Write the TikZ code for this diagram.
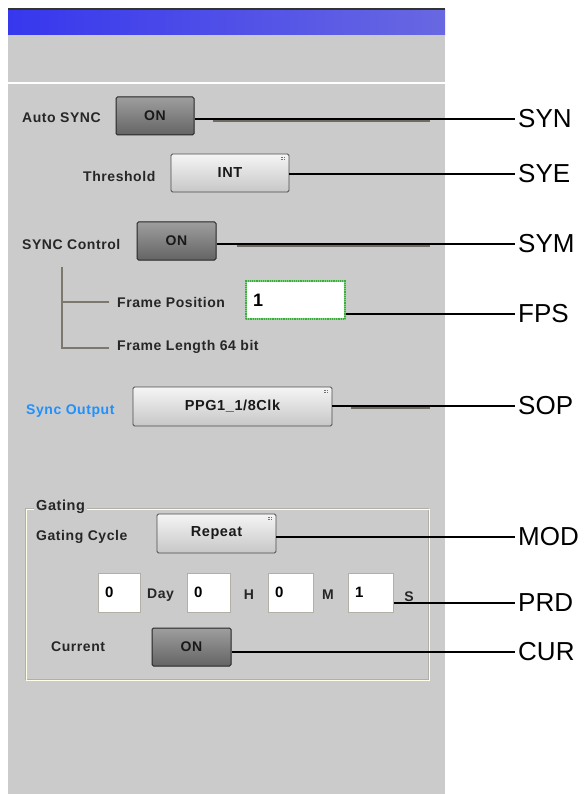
\documentclass[tikz,border=0pt]{standalone}
\usepackage{fontspec}
\setmainfont{Liberation Sans}
\newfontfamily\guifont[LetterSpace=4]{Liberation Sans}
\usetikzlibrary{shapes,backgrounds}

\definecolor{panelgray}{RGB}{203,203,203}
\definecolor{barleft}{RGB}{55,55,238}
\definecolor{barright}{RGB}{104,104,226}
\definecolor{treeline}{RGB}{125,120,110}
\definecolor{linkblue}{RGB}{30,144,255}
\definecolor{focusgreen}{RGB}{120,215,120}
\definecolor{focusdark}{RGB}{60,170,60}
\definecolor{shadowgray}{RGB}{112,107,97}
\definecolor{ontop}{RGB}{158,158,158}
\definecolor{onbottom}{RGB}{100,100,100}
\definecolor{etch}{RGB}{178,175,166}

\tikzset{
  gui/.style={font=\guifont\bfseries\fontsize{14}{15}\selectfont, text=black!85, inner sep=0pt},
  onbtn/.style={draw=black!85, line width=1pt, rounded corners=1.5pt,
    top color=ontop, bottom color=onbottom, minimum height=38pt,
    font=\guifont\bfseries\fontsize{14}{15}\selectfont, text=black!90, inner sep=0pt},
  selbtn/.style={draw=black!70, line width=0.8pt, rounded corners=1.5pt,
    top color=white!96!black, bottom color=black!22, minimum height=39pt,
    font=\guifont\bfseries\fontsize{14.5}{16}\selectfont, text=black!90, inner sep=0pt},
  valbox/.style={draw=etch, line width=1pt, fill=white, minimum height=39pt,
    inner xsep=7pt, align=left, font=\bfseries\fontsize{15}{16}\selectfont},
  tag/.style={font=\fontsize{26}{28}\selectfont, inner xsep=3pt, inner ysep=0pt, anchor=west},
  leader/.style={line width=1.3pt, black},
  shadeline/.style={line width=2.6pt, shadowgray},
}

\newcommand{\gripdots}[1]{%
  \foreach \gx in {0,2.4} {
    \foreach \gy in {0,2.4} {
      \fill[black!55] ([xshift=-8pt,yshift=-3pt]#1.north east) ++(\gx,\gy) rectangle +(1.3,1.3);
    }
  }
}

\begin{document}
\begin{tikzpicture}[x=1pt,y=-1pt]
    \useasboundingbox (0,0) rectangle (587,794);
    % window
    \fill[panelgray] (8,8) rectangle (445,794);
    \shade[left color=barleft, right color=barright] (8,10) rectangle (445,35);
    \fill[black!80] (8,8) rectangle (445,10);
    \draw[white, line width=1.5pt] (8,83) -- (445,83);

    % sync settings
    \node[gui, anchor=west] (autolbl) at (22,118) {Auto SYNC};
    \node[onbtn, minimum width=78pt] (synbtn) at (155,116) {ON};
    \node[gui, anchor=west] (thrlbl) at (83,176) {Threshold};
    \node[selbtn, minimum width=118pt, minimum height=38pt] (syebtn) at (230,173) {INT};
    \gripdots{syebtn}
    \node[gui, anchor=west] (ctllbl) at (22,244) {SYNC Control};
    \node[onbtn, minimum width=79pt] (symbtn) at (176.5,241) {ON};

    % frame tree
    \draw[treeline, line width=1.6pt] (62,267) -- (62,348) -- (109,348);
    \draw[treeline, line width=1.6pt] (62,302) -- (109,302);
    \node[gui, anchor=west] (poslbl) at (117,302) {Frame Position};
    \node[valbox, draw=focusgreen, line width=2.6pt, text width=85pt, minimum height=38pt,
          font=\bfseries\fontsize{18}{18}\selectfont,
          postaction={draw=focusdark, densely dotted, line width=1.2pt}] (fpsbox) at (295.5,300) {1};
    \node[gui, anchor=west] (lenlbl) at (117,347) {Frame Length 64 bit};

    \node[gui, anchor=west, text=linkblue] (soplbl) at (26,411) {Sync Output};
    \node[selbtn, minimum width=199pt] (sopbtn) at (232.5,406.5) {PPG1\_1/8Clk};
    \gripdots{sopbtn}

    % gating group
    \draw[etch, line width=1pt] (25,508) rectangle (428,679);
    \draw[white!90!yellow, line width=1pt] (26.5,509.5) rectangle (429.5,680.5);
    \node[gui, anchor=west, fill=panelgray, inner xsep=2pt, font=\guifont\bfseries\fontsize{14.5}{15}\selectfont] (gatlbl) at (34,507) {Gating};
    \node[gui, anchor=west] (cyclbl) at (36,537) {Gating Cycle};
    \node[selbtn, minimum width=119pt] (modbtn) at (216.5,533.5) {Repeat};
    \gripdots{modbtn}

    \node[valbox, text width=28pt] (dbox) at (119,592.5) {0};
    \node[gui, anchor=west] (dlbl) at (147,595) {Day};
    \node[valbox, text width=29pt] (hbox) at (208.5,592.5) {0};
    \node[gui] (hlbl) at (249,595) {H};
    \node[valbox, text width=31pt] (mbox) at (290.5,592.5) {0};
    \node[gui] (mlbl) at (328,595) {M};
    \node[valbox, text width=31pt] (sbox) at (370.5,592.5) {1};
    \node[gui] (slbl) at (409,597) {S};

    \node[gui, anchor=west] (curlbl) at (51,647) {Current};
    \node[onbtn, minimum width=79pt] (curbtn) at (191.5,647) {ON};

    % command names
    \foreach \cmd/\yy in {SYN/119, SYE/174, SYM/244, FPS/314, SOP/406, MOD/537, PRD/603, CUR/652} {
      \node[tag] (\cmd) at (515,\yy) {\cmd};
    }

    \draw[shadeline] (213,120.5) -- (430,120.5);
    \draw[shadeline] (237,245.5) -- (430,245.5);
    \draw[shadeline] (351,408) -- (430,408);
    \foreach \from/\to in {synbtn/SYN, syebtn/SYE, symbtn/SYM, fpsbox/FPS, sopbtn/SOP, modbtn/MOD, sbox/PRD, curbtn/CUR} {
      \draw[leader] (\from.east |- \to.west) -- (\to.west);
    }
  \end{tikzpicture}
\end{document}
